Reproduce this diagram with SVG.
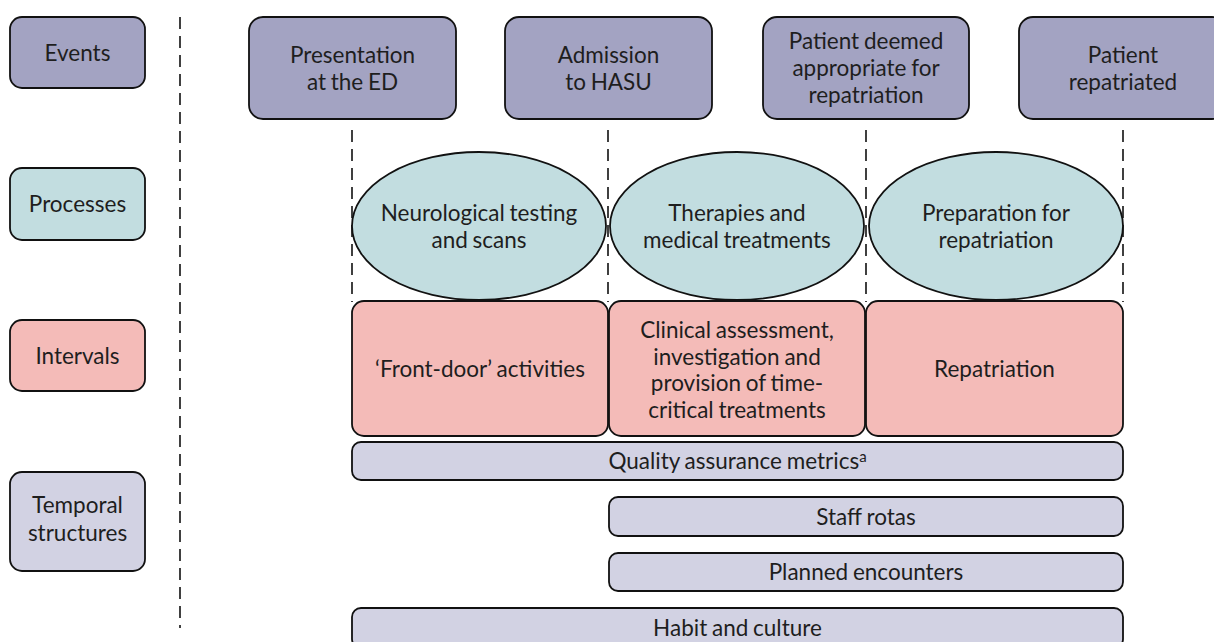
<svg xmlns="http://www.w3.org/2000/svg" width="1214" height="642" viewBox="0 0 1214 642">
<style>
text{font-family:Lato,"Open Sans","Liberation Sans",sans-serif;font-size:22.5px;fill:#1e1e1e;text-anchor:middle;word-spacing:-1px}
.ev{fill:#a3a3c2;stroke:#111;stroke-width:1.8}
.pr{fill:#c2dde0;stroke:#111;stroke-width:1.8}
.iv{fill:#f4bbb8;stroke:#111;stroke-width:1.8}
.ts{fill:#d2d2e3;stroke:#111;stroke-width:1.8}
.dash{stroke:#111;stroke-width:1.6;stroke-dasharray:12 7;fill:none}
.sup{font-size:15px}
</style>
<rect width="1214" height="642" fill="#fff"/>
<g id="connectors">
<line class="dash" x1="180" y1="17" x2="180" y2="628" stroke-width="2" stroke-dasharray="10 6"/>
<line class="dash" x1="352" y1="130" x2="352" y2="302"/>
<line class="dash" x1="608" y1="130" x2="608" y2="302"/>
<line class="dash" x1="866" y1="130" x2="866" y2="302"/>
<line class="dash" x1="1123" y1="130" x2="1123" y2="302"/>
</g>
<g id="legend-events"><rect class="ev" x="10" y="17" width="135" height="71" rx="12"/><text x="77.5" y="61">Events</text></g>
<g id="legend-processes"><rect class="pr" x="10" y="168" width="135" height="72" rx="12"/><text x="77.5" y="212">Processes</text></g>
<g id="legend-intervals"><rect class="iv" x="10" y="320" width="135" height="71" rx="12"/><text x="77.5" y="364">Intervals</text></g>
<g id="legend-temporal"><rect class="ts" x="10" y="472" width="135" height="99" rx="12"/><text x="77.5" y="513">Temporal</text><text x="77.5" y="541">structures</text></g>
<g id="event-presentation"><rect class="ev" x="249" y="17" width="207" height="102" rx="14"/><text x="352.5" y="62.5">Presentation</text><text x="352.5" y="90">at the ED</text></g>
<g id="event-admission"><rect class="ev" x="505" y="17" width="207" height="102" rx="14"/><text x="608.5" y="62.5">Admission</text><text x="608.5" y="90">to HASU</text></g>
<g id="event-deemed"><rect class="ev" x="763" y="17" width="206" height="102" rx="14"/><text x="866" y="49">Patient deemed</text><text x="866" y="76">appropriate for</text><text x="866" y="103">repatriation</text></g>
<g id="event-repatriated"><rect class="ev" x="1019" y="17" width="207" height="102" rx="14"/><text x="1123" y="62.5">Patient</text><text x="1123" y="90">repatriated</text></g>
<g id="process-neuro"><ellipse class="pr" cx="479" cy="226" rx="127" ry="74"/><text x="479" y="220.5">Neurological testing</text><text x="479" y="248">and scans</text></g>
<g id="process-therapies"><ellipse class="pr" cx="737" cy="226" rx="127" ry="74"/><text x="737" y="220.5">Therapies and</text><text x="737" y="248">medical treatments</text></g>
<g id="process-prep"><ellipse class="pr" cx="996" cy="226" rx="127" ry="74"/><text x="996" y="220.5">Preparation for</text><text x="996" y="248">repatriation</text></g>
<g id="interval-frontdoor"><rect class="iv" x="352" y="301" width="256" height="135" rx="12"/><text x="480" y="376.5">‘Front-door’ activities</text></g>
<g id="interval-clinical"><rect class="iv" x="609" y="301" width="256" height="135" rx="12"/><text x="737" y="337.5">Clinical assessment,</text><text x="737" y="364.5">investigation and</text><text x="737" y="391">provision of time-</text><text x="737" y="417.5">critical treatments</text></g>
<g id="interval-repatriation"><rect class="iv" x="866" y="301" width="257" height="135" rx="12"/><text x="994.5" y="376.5">Repatriation</text></g>
<g id="ts-quality"><rect class="ts" x="352" y="442" width="771" height="38" rx="9"/><text x="737.5" y="469">Quality assurance metrics<tspan class="sup" dy="-7">a</tspan></text></g>
<g id="ts-staff"><rect class="ts" x="609" y="497" width="514" height="39" rx="9"/><text x="866" y="525">Staff rotas</text></g>
<g id="ts-planned"><rect class="ts" x="609" y="553" width="514" height="38" rx="9"/><text x="866" y="580">Planned encounters</text></g>
<g id="ts-habit"><rect class="ts" x="352" y="608" width="771" height="40" rx="9"/><text x="737.5" y="636">Habit and culture</text></g>
</svg>
